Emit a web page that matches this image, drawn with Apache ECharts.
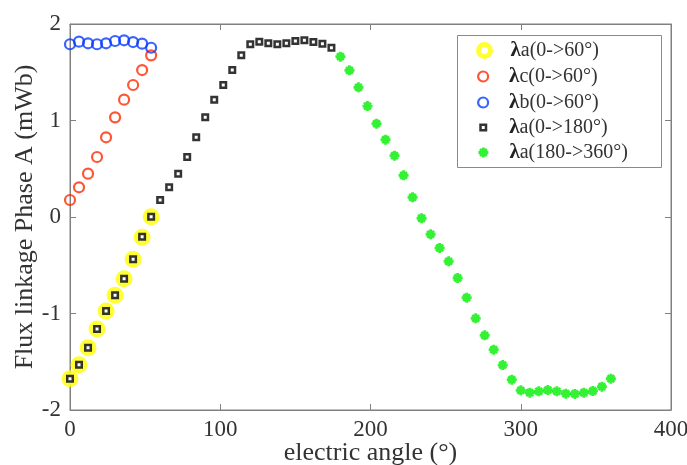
<!DOCTYPE html>
<html>
<head>
<meta charset="utf-8">
<script src="https://cdn.jsdelivr.net/npm/echarts@6/dist/echarts.min.js"></script>
<style>
  html, body { margin: 0; padding: 0; background: #fff; overflow: hidden; }
  #chart { width: 687px; height: 465px; }
</style>
</head>
<body>
<div id="chart"></div>
<script>
// Electric angle samples (degrees)
const angle0to60 = [0, 6, 12, 18, 24, 30, 36, 42, 48, 54];
const angle0to180 = [0, 6, 12, 18, 24, 30, 36, 42, 48, 54,
                     60, 66, 72, 78, 84, 90, 96, 102, 108, 114,
                     120, 126, 132, 138, 144, 150, 156, 162, 168, 174];
const angle180to360 = [180, 186, 192, 198, 204, 210, 216, 222, 228, 234,
                       240, 246, 252, 258, 264, 270, 276, 282, 288, 294,
                       300, 306, 312, 318, 324, 330, 336, 342, 348, 354, 360];

// Flux linkage (mWb)
const lambdaA60 = [-1.676, -1.530, -1.354, -1.160, -0.974, -0.812, -0.639, -0.439, -0.210, 0.003];
const lambdaC60 = [0.176, 0.308, 0.449, 0.622, 0.826, 1.033, 1.216, 1.368, 1.523, 1.675];
const lambdaB60 = [1.790, 1.817, 1.800, 1.790, 1.800, 1.824, 1.831, 1.813, 1.796, 1.754];
const lambdaA180 = [-1.676, -1.530, -1.354, -1.160, -0.974, -0.812, -0.639, -0.439, -0.204, 0.003,
                    0.176, 0.308, 0.449, 0.622, 0.826, 1.033, 1.216, 1.368, 1.523, 1.675,
                    1.790, 1.817, 1.800, 1.790, 1.800, 1.824, 1.831, 1.813, 1.796, 1.754];
const lambdaA360 = [1.661, 1.520, 1.344, 1.150, 0.967, 0.801, 0.635, 0.432, 0.204, -0.013,
                    -0.179, -0.321, -0.459, -0.632, -0.836, -1.050, -1.226, -1.375, -1.534, -1.686,
                    -1.796, -1.821, -1.806, -1.793, -1.806, -1.831, -1.834, -1.821, -1.803, -1.758, -1.676];

const seriesNames = ['λa(0->60°)', 'λc(0->60°)', 'λb(0->60°)', 'λa(0->180°)', 'λa(180->360°)'];
const xTicks = { min: 0, max: 400, interval: 100 };
const yTicks = { min: -2, max: 2, interval: 1 };

const FONT = '"Liberation Serif", "Times New Roman", serif';
const AXIS_COLOR = '#808080';
const TEXT_COLOR = '#333333';
const ASTERISK = 'path://M5,0L5,10M0,5L10,5M1.6,1.6L8.4,8.4M1.6,8.4L8.4,1.6';

function pairs(xs, ys) { return xs.map((x, i) => [x, ys[i]]); }

const chart = echarts.init(document.getElementById('chart'), null, { renderer: 'canvas', width: 687, height: 465 });

const markerStyles = [
  { symbol: 'circle', size: 12, itemStyle: { color: '#ffffff', borderColor: '#ffff00', borderWidth: 5 } },
  { symbol: 'circle', size: 10, itemStyle: { color: 'rgba(255,255,255,0)', borderColor: '#ff2a00', borderWidth: 2.2 } },
  { symbol: 'circle', size: 10, itemStyle: { color: 'rgba(255,255,255,0)', borderColor: '#0a3cff', borderWidth: 2.2 } },
  { symbol: 'rect', size: 5.5, itemStyle: { color: '#ffffff', borderColor: '#000000', borderWidth: 2.5 } },
  { symbol: ASTERISK, size: 10, itemStyle: { color: '#00ee00', borderColor: '#00ee00', borderWidth: 2.8 } }
];
const seriesData = [
  pairs(angle0to60, lambdaA60),
  pairs(angle0to60, lambdaC60),
  pairs(angle0to60, lambdaB60),
  pairs(angle0to180, lambdaA180),
  pairs(angle180to360, lambdaA360)
];

// Legend: one component per entry so each icon keeps its own marker size
const legendRowsY = [51, 77, 103, 128, 153];
const iconCx = 482, textX = 508;
const legends = seriesNames.map((name, i) => {
  const m = markerStyles[i];
  const w = m.size;
  const pad = textX - (iconCx + w / 2 + 5);
  return {
    data: [name],
    orient: 'vertical',
    left: iconCx - w / 2,
    top: legendRowsY[i] - 11,
    padding: 0,
    itemWidth: w,
    itemHeight: w,
    selectedMode: false,
    itemStyle: Object.assign({}, m.itemStyle),
    formatter: n => '{s| }{b|λ}{t|' + n.slice(1) + '}',
    textStyle: {
      fontFamily: FONT,
      fontSize: 20,
      color: TEXT_COLOR,
      rich: {
        s: { width: pad, fontSize: 20 },
        b: { fontFamily: FONT, fontSize: 21, fontWeight: 'bold', color: '#222' },
        t: { fontFamily: FONT, fontSize: 20, color: TEXT_COLOR }
      }
    }
  };
});

function makeAxisLine() { return { show: true, onZero: false, lineStyle: { color: AXIS_COLOR, width: 1 } }; }
function makeAxisTick() { return { show: true, inside: true, length: 6, lineStyle: { color: AXIS_COLOR, width: 1 } }; }

const option = {
  animation: false,
  grid: {
    left: 70, right: 16, top: 24, bottom: 55,
    outerBoundsMode: 'none',
    show: true,
    borderColor: AXIS_COLOR,
    borderWidth: 1
  },
  graphic: [{
    type: 'rect',
    left: 457, top: 35,
    shape: { width: 204, height: 132 },
    style: { fill: '#ffffff', stroke: '#8a8a8a', lineWidth: 1 }
  }],
  legend: legends,
  xAxis: [{
    type: 'value',
    min: xTicks.min, max: xTicks.max, interval: xTicks.interval,
    name: 'electric angle (°)',
    nameLocation: 'middle',
    nameGap: 30,
    nameMoveOverlap: false,
    nameTextStyle: { fontFamily: FONT, fontSize: 26, color: TEXT_COLOR },
    axisLine: makeAxisLine(),
    axisTick: makeAxisTick(),
    axisLabel: { fontFamily: FONT, fontSize: 23, color: TEXT_COLOR, margin: 8 },
    splitLine: { show: false }
  }, {
    type: 'value',
    position: 'top',
    min: xTicks.min, max: xTicks.max, interval: xTicks.interval,
    axisLine: makeAxisLine(),
    axisTick: makeAxisTick(),
    axisLabel: { show: false },
    splitLine: { show: false }
  }],
  yAxis: [{
    type: 'value',
    min: yTicks.min, max: yTicks.max, interval: yTicks.interval,
    name: 'Flux linkage Phase A (mWb)',
    nameLocation: 'middle',
    nameGap: 32,
    nameMoveOverlap: false,
    nameRotate: 90,
    nameTextStyle: { fontFamily: FONT, fontSize: 26, color: TEXT_COLOR },
    axisLine: makeAxisLine(),
    axisTick: makeAxisTick(),
    axisLabel: { fontFamily: FONT, fontSize: 23, color: TEXT_COLOR, margin: 9 },
    splitLine: { show: false }
  }, {
    type: 'value',
    position: 'right',
    min: yTicks.min, max: yTicks.max, interval: yTicks.interval,
    axisLine: makeAxisLine(),
    axisTick: makeAxisTick(),
    axisLabel: { show: false },
    splitLine: { show: false }
  }],
  series: seriesNames.map((name, i) => ({
    name: name,
    type: 'scatter',
    data: seriesData[i],
    symbol: markerStyles[i].symbol,
    symbolSize: markerStyles[i].size,
    itemStyle: markerStyles[i].itemStyle
  }))
};

chart.setOption(option);
</script>
</body>
</html>
